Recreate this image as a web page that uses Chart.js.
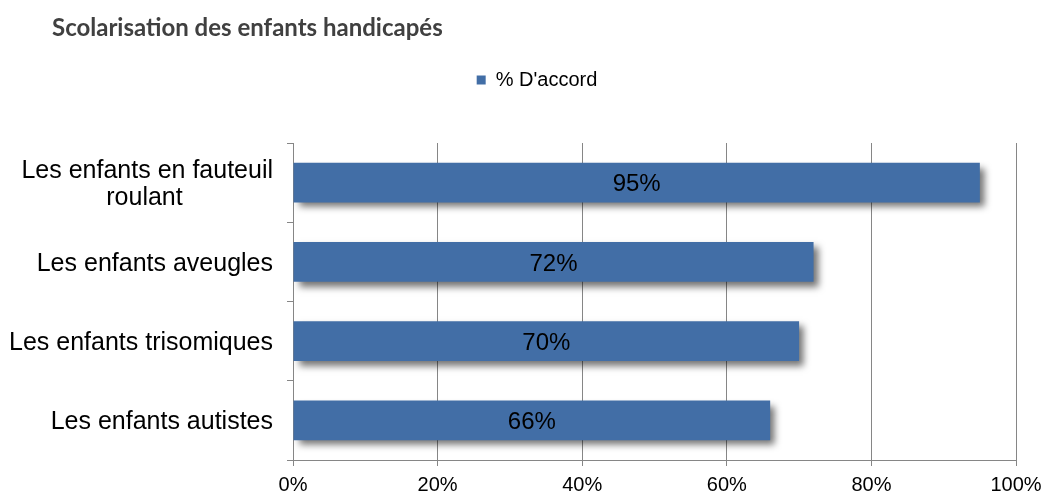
<!DOCTYPE html>
<html>
<head>
<meta charset="utf-8">
<script src="https://cdn.jsdelivr.net/npm/chart.js@4.4.1/dist/chart.umd.min.js"></script>
<style>
  html, body { margin: 0; padding: 0; background: #ffffff; }
  #wrap { position: relative; width: 1046px; height: 493px; }
</style>
</head>
<body>
<div id="wrap"><canvas id="c" width="1046" height="493"></canvas></div>
<script>
const titleText = "Scolarisation des enfants handicapés";
const seriesName = "% D'accord";
const categories = [
  ["Les enfants en fauteuil", "roulant"],
  "Les enfants aveugles",
  "Les enfants trisomiques",
  "Les enfants autistes"
];
const values = [95, 72, 70, 66];
const xTickStep = 20;
const xMax = 100;

const barColor = '#426EA6';
const gridColor = '#868686';
const catFont = { family: '"Liberation Sans", Arial, sans-serif', size: 25, lineHeight: 1.1 };

// centre the lines of a multi-line label within its own block (block stays right-aligned)
const measureCtx = document.createElement('canvas').getContext('2d');
measureCtx.font = catFont.size + 'px ' + catFont.family;
function centreLines(label) {
  if (!Array.isArray(label)) return label;
  const widths = label.map(l => measureCtx.measureText(l).width);
  const maxW = Math.max(...widths);
  const sp = measureCtx.measureText('\u00a0').width;
  return label.map((l, i) => l + '\u00a0'.repeat(Math.round((maxW - widths[i]) / 2 / sp)));
}

function zeroPadding(scale) {
  scale.paddingLeft = 0;
  scale.paddingRight = 0;
  scale.paddingTop = 0;
  scale.paddingBottom = 0;
}

const shadowPlugin = {
  id: 'barShadow',
  beforeDatasetsDraw(chart) {
    const ctx = chart.ctx;
    ctx.save();
    ctx.shadowColor = 'rgba(0,0,0,0.55)';
    ctx.shadowOffsetX = 5;
    ctx.shadowOffsetY = 5;
    ctx.shadowBlur = 7;
  },
  afterDatasetsDraw(chart) {
    const ctx = chart.ctx;
    ctx.restore();
    const meta = chart.getDatasetMeta(0);
    ctx.save();
    ctx.font = '24px "Liberation Sans", Arial, sans-serif';
    ctx.fillStyle = '#000000';
    ctx.textAlign = 'center';
    ctx.textBaseline = 'middle';
    meta.data.forEach((bar, i) => {
      const x = (bar.x + bar.base) / 2;
      ctx.fillText(values[i] + '%', x, bar.y + 2);
    });
    ctx.restore();
  }
};

// chart title drawn at the reference's left offset
const titlePlugin = {
  id: 'leftTitle',
  afterDraw(chart) {
    const ctx = chart.ctx;
    ctx.save();
    ctx.font = 'bold 24px Lato, sans-serif';
    ctx.fillStyle = '#404040';
    ctx.textAlign = 'left';
    ctx.textBaseline = 'middle';
    ctx.fillText(titleText, 52, 28);
    ctx.restore();
  }
};

const legendTweak = {
  id: 'legendTweak',
  afterInit(chart) {
    const lg = chart.legend;
    if (!lg) return;
    const origFit = lg.fit;
    lg.fit = function () {
      origFit.call(this);
      this.height = 73;
    };
    const origDraw = lg.draw;
    lg.draw = function (area) {
      const ctx = this.ctx;
      ctx.save();
      ctx.translate(29, 0);
      origDraw.call(this, area);
      ctx.restore();
    };
  }
};

new Chart(document.getElementById('c'), {
  type: 'bar',
  data: {
    labels: categories,
    datasets: [{
      label: seriesName,
      data: values,
      backgroundColor: barColor,
      borderWidth: 0,
      barPercentage: 0.5,
      categoryPercentage: 1.0
    }]
  },
  options: {
    indexAxis: 'y',
    responsive: false,
    animation: false,
    devicePixelRatio: 1,
    layout: { padding: { left: 0, right: 30, top: 70, bottom: 0 } },
    plugins: {
      title: { display: false },
      legend: {
        display: true,
        position: 'top',
        labels: {
          boxWidth: 9,
          boxHeight: 9,
          color: '#000000',
          font: { family: '"Liberation Sans", Arial, sans-serif', size: 20 },
          padding: 0
        }
      },
      tooltip: { enabled: false }
    },
    scales: {
      x: {
        min: 0,
        max: xMax,
        ticks: {
          stepSize: xTickStep,
          color: '#000000',
          font: { family: '"Liberation Sans", Arial, sans-serif', size: 20, lineHeight: 1 },
          padding: 9,
          callback: v => v + '%'
        },
        grid: { color: gridColor, lineWidth: 1, tickLength: 6, drawTicks: true },
        border: { color: gridColor, width: 1 },
        afterFit(scale) { scale.height = 33; zeroPadding(scale); }
      },
      y: {
        ticks: {
          color: '#000000',
          font: catFont,
          padding: 14,
          labelOffset: 2,
          callback: function (v, i) { return centreLines(categories[i]); }
        },
        grid: { drawOnChartArea: false, color: gridColor, tickLength: 6, offset: true },
        border: { color: gridColor, width: 1 },
        afterFit(scale) { scale.width = 293; zeroPadding(scale); }
      }
    }
  },
  plugins: [shadowPlugin, legendTweak, titlePlugin]
});
</script>
</body>
</html>
